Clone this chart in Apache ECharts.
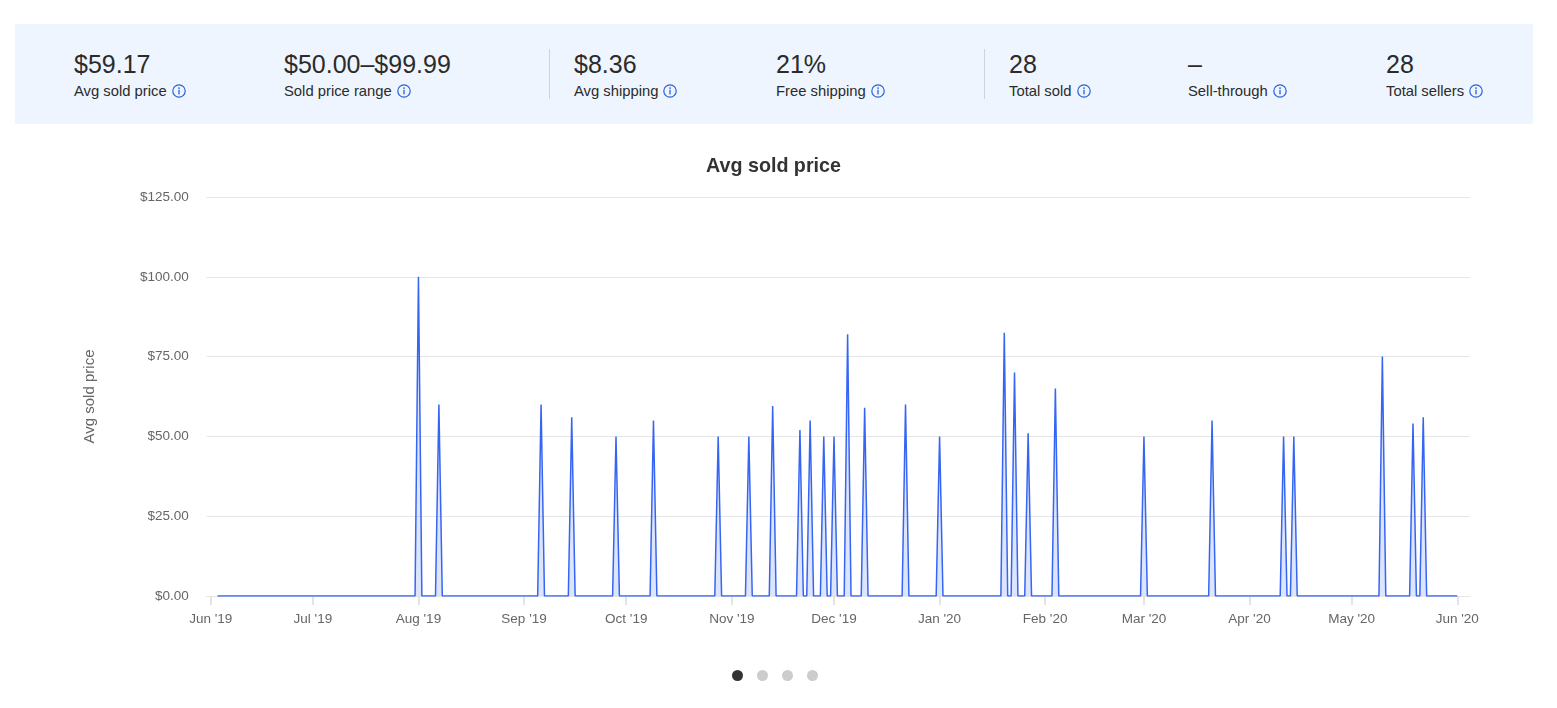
<!DOCTYPE html>
<html>
<head>
<meta charset="utf-8">
<script src="https://cdn.jsdelivr.net/npm/echarts@6/dist/echarts.min.js"></script>
<style>
html,body{margin:0;padding:0;background:#fff;width:1557px;height:708px;overflow:hidden;font-family:"Liberation Sans",Arial,sans-serif;}
#chart{position:absolute;left:0;top:0;width:1557px;height:708px;}
#panel{position:absolute;left:15px;top:24px;width:1518px;height:100px;background:#eef5fe;z-index:2;}
.stat{position:absolute;top:0;}
.val{position:absolute;top:25.5px;left:0;font-size:25px;color:#2b2b2b;white-space:nowrap;}
.lab{position:absolute;top:58.5px;left:0;font-size:14.8px;color:#2b2b2b;white-space:nowrap;}
.lab svg{vertical-align:-2.5px;margin-left:5px;}
.div{position:absolute;top:25px;width:1px;height:50px;background:#cfd3d8;}
.dot{position:absolute;top:670px;width:11px;height:11px;border-radius:50%;background:#cccccc;z-index:2;}
</style>
</head>
<body>
<div id="chart"></div>
<div id="panel"></div>
<div id="dots"></div>
<script>
// ---- data ----
const statValues = ['$59.17', '$50.00\u2013$99.99', '$8.36', '21%', '28', '\u2013', '28'];
const statLabels = ['Avg sold price', 'Sold price range', 'Avg shipping', 'Free shipping', 'Total sold', 'Sell-through', 'Total sellers'];

const seriesStart = '2019-06-03';
const seriesEnd = '2020-06-01';
const saleDates = [
  '2019-08-01','2019-08-07','2019-09-06','2019-09-15','2019-09-28','2019-10-09',
  '2019-10-28','2019-11-06','2019-11-13','2019-11-21','2019-11-24','2019-11-28',
  '2019-12-01','2019-12-05','2019-12-10','2019-12-22','2020-01-01','2020-01-20',
  '2020-01-23','2020-01-27','2020-02-04','2020-03-01','2020-03-21','2020-04-11',
  '2020-04-14','2020-05-10','2020-05-19','2020-05-22'
];
const salePrices = [
  99.99, 60, 60, 56, 50, 55,
  50, 50, 59.5, 52, 55, 50,
  50, 82, 59, 60, 50, 82.5,
  70, 51, 65, 50, 55, 50,
  50, 75, 54, 56
];
const monthTicks = ['2019-06-01','2019-07-01','2019-08-01','2019-09-01','2019-10-01','2019-11-01','2019-12-01',
  '2020-01-01','2020-02-01','2020-03-01','2020-04-01','2020-05-01','2020-06-01'];
const monthLabels = ["Jun '19","Jul '19","Aug '19","Sep '19","Oct '19","Nov '19","Dec '19",
  "Jan '20","Feb '20","Mar '20","Apr '20","May '20","Jun '20"];
const yTicks = [0, 25, 50, 75, 100, 125];
const chartTitle = 'Avg sold price';
const yAxisName = 'Avg sold price';

// ---- panel ----
const colLeft = [74, 284, 574, 776, 1009, 1188, 1386];
const dividers = [549, 984];
const icon = '<svg width="14" height="14" viewBox="0 0 14 14"><circle cx="7" cy="7" r="6.2" fill="none" stroke="#2a62d8" stroke-width="1.2"/><circle cx="7" cy="4.1" r="0.9" fill="#2a62d8"/><rect x="6.35" y="5.8" width="1.3" height="4.6" fill="#2a62d8"/></svg>';
const panel = document.getElementById('panel');
statValues.forEach((v, i) => {
  const d = document.createElement('div');
  d.className = 'stat';
  d.style.left = (colLeft[i] - 15) + 'px';
  d.innerHTML = '<div class="val">' + v + '</div><div class="lab">' + statLabels[i] + icon + '</div>';
  panel.appendChild(d);
});
dividers.forEach(x => {
  const d = document.createElement('div');
  d.className = 'div';
  d.style.left = (x - 15) + 'px';
  panel.appendChild(d);
});
const dotsX = [737, 762, 787, 812];
const dotsEl = document.getElementById('dots');
dotsX.forEach((x, i) => {
  const d = document.createElement('div');
  d.className = 'dot';
  d.style.left = (x - 5.5) + 'px';
  if (i === 0) d.style.background = '#333333';
  dotsEl.appendChild(d);
});

// ---- chart ----
const DAY = 86400000;
function ts(s) { const p = s.split('-').map(Number); return Date.UTC(p[0], p[1] - 1, p[2]); }
const priceByDay = {};
saleDates.forEach((d, i) => { priceByDay[ts(d)] = salePrices[i]; });
const seriesData = [];
for (let t = ts(seriesStart); t <= ts(seriesEnd); t += DAY) {
  seriesData.push([t, priceByDay[t] !== undefined ? priceByDay[t] : 0]);
}
const tickValues = monthTicks.map(ts);

const chart = echarts.init(document.getElementById('chart'), null, { renderer: 'canvas' });
const font = '"Liberation Sans", Arial, sans-serif';
chart.setOption({
  animation: false,
  backgroundColor: '#ffffff',
  textStyle: { fontFamily: font },
  title: {
    text: chartTitle,
    left: 701,
    top: 152,
    textStyle: { fontSize: 19.7, fontWeight: 'bold', color: '#333333', fontFamily: font }
  },
  grid: { left: 206.7, right: 87, top: 197, bottom: 112, containLabel: false },
  xAxis: {
    type: 'value',
    scale: true,
    min: ts('2019-06-01') - 1.17 * DAY,
    max: ts('2020-06-01') + 3.73 * DAY,
    axisLine: { show: true, onZero: false, lineStyle: { color: '#e6e6e6', width: 1 } },
    axisTick: { show: true, customValues: tickValues, length: 9, lineStyle: { color: '#dcdcdc', width: 1.5 } },
    axisLabel: {
      customValues: tickValues,
      color: '#666666',
      fontSize: 13.5,
      fontFamily: font,
      margin: 16,
      showMinLabel: true,
      showMaxLabel: true,
      formatter: function (v) {
        let best = 0;
        for (let i = 1; i < tickValues.length; i++) {
          if (Math.abs(tickValues[i] - v) < Math.abs(tickValues[best] - v)) best = i;
        }
        return monthLabels[best];
      }
    },
    splitLine: { show: false }
  },
  yAxis: {
    type: 'value',
    min: yTicks[0],
    max: yTicks[yTicks.length - 1],
    interval: 25,
    name: yAxisName,
    nameLocation: 'middle',
    nameRotate: 90,
    nameGap: 109,
    nameTextStyle: { color: '#666666', fontSize: 15, fontFamily: font },
    axisLine: { show: false },
    axisTick: { show: false },
    axisLabel: {
      color: '#666666',
      fontSize: 13.5,
      fontFamily: font,
      margin: 18,
      formatter: v => '$' + v.toFixed(2)
    },
    splitLine: { show: true, lineStyle: { color: '#e6e6e6', width: 1 } }
  },
  series: [{
    type: 'line',
    data: seriesData,
    showSymbol: false,
    symbol: 'none',
    lineStyle: { color: '#3665f3', width: 1.5 },
    itemStyle: { color: '#3665f3' },
    areaStyle: { color: 'rgba(54,101,243,0.24)' }
  }]
});
</script>
</body>
</html>
